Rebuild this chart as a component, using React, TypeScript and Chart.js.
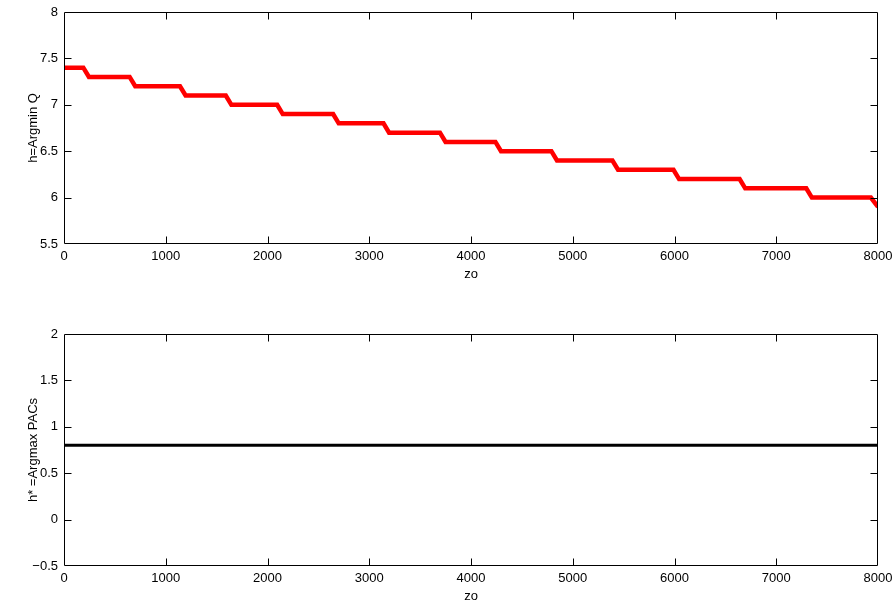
import React, { useEffect, useRef } from 'react';
import { Chart, registerables } from 'chart.js';

Chart.register(...registerables);

// ---- data ----
const zoTop = [0, 190, 245, 645, 700, 1140, 1195, 1590, 1645, 2095, 2150, 2645, 2700, 3140, 3195, 3695, 3750, 4240, 4295, 4790, 4845, 5390, 5445, 5990, 6045, 6640, 6695, 7295, 7350, 7930, 8000];
const hArgminQ = [7.4, 7.4, 7.3, 7.3, 7.2, 7.2, 7.1, 7.1, 7.0, 7.0, 6.9, 6.9, 6.8, 6.8, 6.7, 6.7, 6.6, 6.6, 6.5, 6.5, 6.4, 6.4, 6.3, 6.3, 6.2, 6.2, 6.1, 6.1, 6.0, 6.0, 5.9];
const zoBottom = [0, 8000];
const hStarArgmaxPACs = [0.8, 0.8];

const xTicks = [0, 1000, 2000, 3000, 4000, 5000, 6000, 7000, 8000];
const topYTicks = [5.5, 6, 6.5, 7, 7.5, 8];
const bottomYTicks = [-0.5, 0, 0.5, 1, 1.5, 2];

const FONT = "'Liberation Sans', Arial, Helvetica, sans-serif";
const W = 895;
const H = 302;
const RIGHT_EDGE = 878;

const fmt = (v: number) => (v < 0 ? '\u2212' + String(Math.abs(v)) : String(v));

const boxPlugin = {
  id: 'matlabBox',
  afterDatasetsDraw(chart: any) {
    const { ctx, chartArea, scales } = chart;
    const { left, right, top, bottom } = chartArea;
    const L = Math.round(left) + 0.5;
    const R = Math.round(right) - 0.5;
    const T = Math.round(top) + 0.5;
    const B = Math.round(bottom) - 0.5;
    const tl = 7;
    ctx.save();
    ctx.strokeStyle = '#000';
    ctx.lineWidth = 1;
    ctx.beginPath();
    ctx.rect(L, T, R - L, B - T);
    scales.x.ticks.forEach((t: any) => {
      const px = Math.round(scales.x.getPixelForValue(t.value)) + 0.5;
      if (px <= L + 1 || px >= R - 1) return;
      ctx.moveTo(px, B);
      ctx.lineTo(px, B - tl);
      ctx.moveTo(px, T);
      ctx.lineTo(px, T + tl);
    });
    scales.y.ticks.forEach((t: any) => {
      const py = Math.round(scales.y.getPixelForValue(t.value)) + 0.5;
      if (py <= T + 1 || py >= B - 1) return;
      ctx.moveTo(L, py);
      ctx.lineTo(L + tl, py);
      ctx.moveTo(R, py);
      ctx.lineTo(R - tl, py);
    });
    ctx.stroke();
    ctx.restore();
  },
};

function makeConfig(
  xs: number[],
  ys: number[],
  color: string,
  width: number,
  yTicks: number[],
  yTitle: string,
  padTop: number,
  xAxisHeight: number,
  xTitlePadBottom: number
): any {
  return {
    type: 'line',
    data: {
      datasets: [
        {
          data: xs.map((x, i) => ({ x, y: ys[i] })),
          borderColor: color,
          backgroundColor: color,
          borderWidth: width,
          pointRadius: 0,
          tension: 0,
          fill: false,
        },
      ],
    },
    options: {
      animation: false,
      responsive: false,
      layout: { padding: { top: padTop, right: W - RIGHT_EDGE, left: 0, bottom: 0 } },
      plugins: { legend: { display: false }, tooltip: { enabled: false } },
      scales: {
        x: {
          type: 'linear',
          min: 0,
          max: 8000,
          afterBuildTicks: (s: any) => {
            s.ticks = xTicks.map((v) => ({ value: v }));
          },
          afterFit: (s: any) => {
            s.height = xAxisHeight;
            s.paddingLeft = 0;
            s.paddingRight = 0;
          },
          grid: { display: false, drawTicks: false },
          border: { display: false },
          ticks: {
            autoSkip: false,
            maxRotation: 0,
            padding: 5,
            color: '#000',
            font: { family: FONT, size: 13 },
            callback: (v: any) => fmt(Number(v)),
          },
          title: {
            display: true,
            text: 'zo',
            color: '#000',
            font: { family: FONT, size: 13 },
            padding: { top: 0, bottom: xTitlePadBottom },
          },
        },
        y: {
          type: 'linear',
          min: yTicks[0],
          max: yTicks[yTicks.length - 1],
          afterBuildTicks: (s: any) => {
            s.ticks = yTicks.map((v) => ({ value: v }));
          },
          afterFit: (s: any) => {
            s.width = 64;
            s.paddingTop = 0;
            s.paddingBottom = 0;
          },
          grid: { display: false, drawTicks: false },
          border: { display: false },
          ticks: {
            autoSkip: false,
            padding: 6,
            color: '#000',
            font: { family: FONT, size: 13 },
            callback: (v: any) => fmt(Number(v)),
          },
          title: {
            display: true,
            text: yTitle,
            color: '#000',
            font: { family: FONT, size: 13 },
            padding: { top: 26, bottom: 0 },
          },
        },
      },
    },
    plugins: [boxPlugin],
  };
}

function Panel(props: { config: any; top: number }) {
  const ref = useRef<HTMLCanvasElement | null>(null);
  useEffect(() => {
    if (!ref.current) return;
    const chart = new Chart(ref.current, props.config);
    return () => chart.destroy();
  }, []);
  return (
    <canvas
      ref={ref}
      width={W}
      height={H}
      style={{ position: 'absolute', left: 0, top: props.top, width: W, height: H }}
    />
  );
}

export default function App() {
  const topCfg = makeConfig(zoTop, hArgminQ, '#ff0000', 4.5, topYTicks, 'h=Argmin Q', 12, H - 244, 20);
  const botCfg = makeConfig(zoBottom, hStarArgmaxPACs, '#000000', 3, bottomYTicks, 'h* =Argmax PACs', 32, H - 264, 0);
  return (
    <div style={{ position: 'absolute', left: 0, top: 0, width: W, height: 604, background: '#fff' }}>
      <Panel config={topCfg} top={0} />
      <Panel config={botCfg} top={302} />
    </div>
  );
}
